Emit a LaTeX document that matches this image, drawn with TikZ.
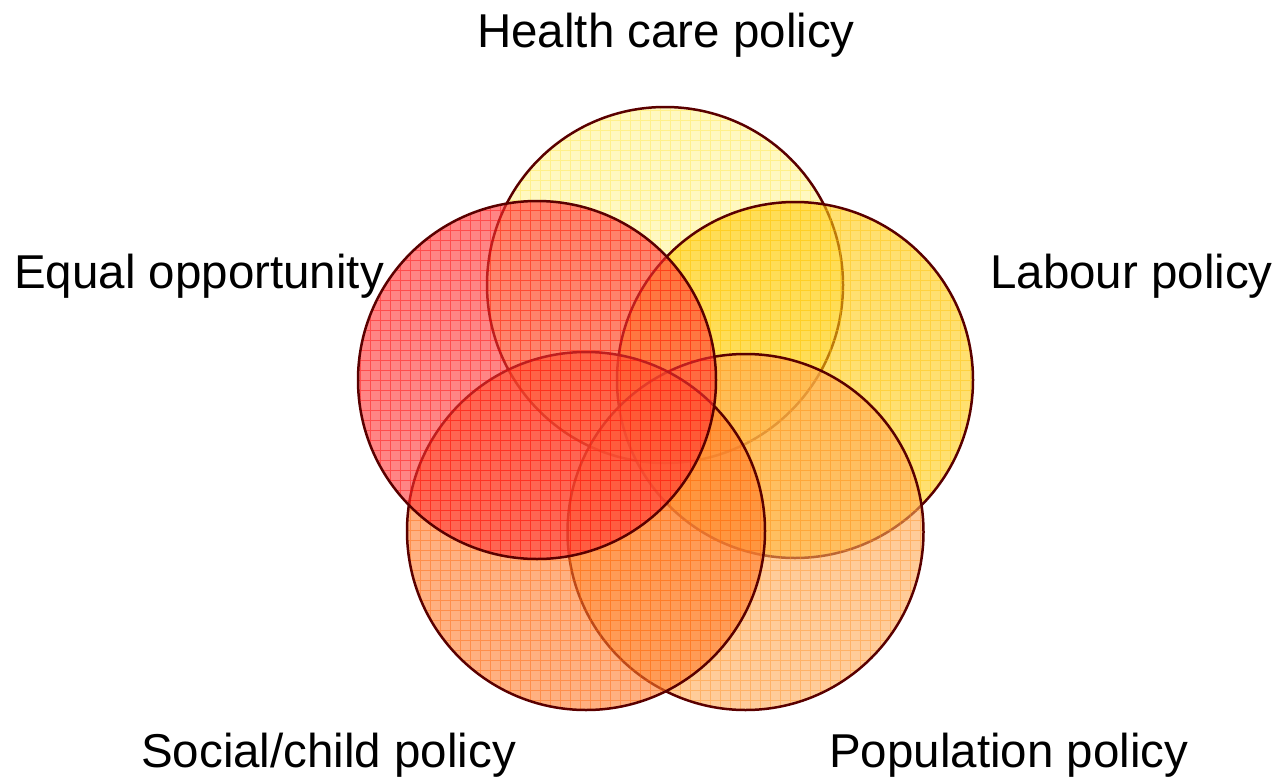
\documentclass[tikz,border=0pt]{standalone}
\usepackage{fontspec}
\setmainfont{Liberation Sans}
\definecolor{edgec}{HTML}{5A0000}
\definecolor{healthc}{HTML}{FFF396}
\definecolor{labourc}{HTML}{FFCB11}
\definecolor{equalc}{HTML}{FF3434}
\definecolor{socialc}{HTML}{FF7B2B}
\definecolor{popc}{HTML}{FFAA55}
\definecolor{healthg}{HTML}{FFE840}
\definecolor{labourg}{HTML}{FFC000}
\definecolor{equalg}{HTML}{FF0000}
\definecolor{socialg}{HTML}{FF6000}
\definecolor{popg}{HTML}{FF9020}
\tikzset{
  lbl/.style={font=\fontsize{47.5}{50}\selectfont, inner sep=0pt, anchor=base},
  setfill/.style={fill=#1, fill opacity=0.6},
  setgrid/.style={draw=#1, draw opacity=0.42, line width=1pt},
  setedge/.style={draw=edgec, line width=2.5pt}
}
\newcommand{\vset}[5]{%
  \fill[setfill=#4] (#1,#2) circle (#3);
  \begin{scope}
    \clip (#1,#2) circle (#3);
    \draw[setgrid=#5, step=10pt] (#1-#3,#2-#3) grid (#1+#3,#2+#3);
  \end{scope}
  \draw[setedge] (#1,#2) circle (#3);
}
\begin{document}
\begin{tikzpicture}[x=1pt,y=-1pt]
\useasboundingbox (0,0) rectangle (1285,779);
\vset{665}{285}{178}{healthc}{healthg}
\vset{795}{380}{178}{labourc}{labourg}
\vset{745.5}{532}{178}{popc}{popg}
\vset{586}{531}{179}{socialc}{socialg}
\vset{537}{380}{179}{equalc}{equalg}
\node[lbl] (health) at (666,47) {Health care policy};
\node[lbl, anchor=base west] (equal) at (14,288) {Equal opportunity};
\node[lbl, anchor=base east] (labour) at (1273,288) {Labour policy};
\node[lbl, anchor=base west] (social) at (141,767) {Social/child policy};
\node[lbl, anchor=base west] (pop) at (829,767) {Population policy};
\end{tikzpicture}
\end{document}
